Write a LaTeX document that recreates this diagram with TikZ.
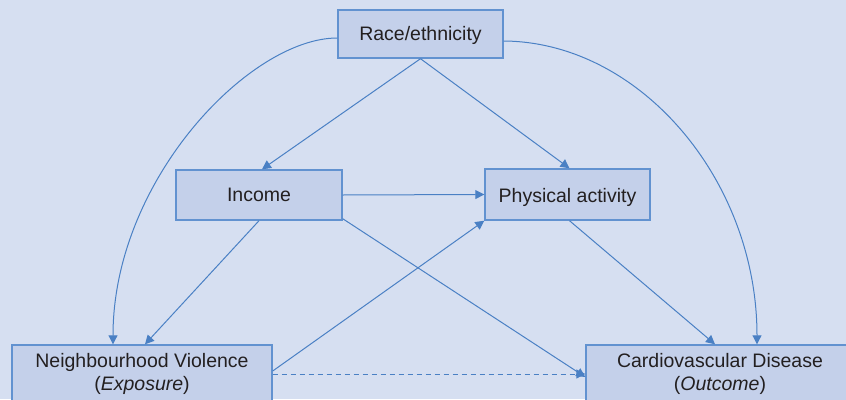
\documentclass[tikz,border=0pt]{standalone}
\usepackage{fontspec}
\setmainfont{Liberation Sans}
\usetikzlibrary{arrows.meta}

\definecolor{bgblue}{RGB}{214,223,241}
\definecolor{boxblue}{RGB}{196,208,234}
\definecolor{edgeblue}{RGB}{98,146,208}
\definecolor{arrowblue}{RGB}{74,128,196}
\definecolor{inkgray}{RGB}{35,31,32}

\begin{document}
\begin{tikzpicture}[
    x=1pt, y=-1pt,
    >={Triangle[length=9pt,width=9pt]},
    every node/.style={font=\fontsize{19.5}{23}\selectfont, text=inkgray},
    var/.style={
        draw=edgeblue,
        fill=boxblue,
        line width=1.4pt,
        align=center,
        inner sep=0pt
    },
    link/.style={
        ->,
        draw=arrowblue,
        line width=1pt
    }
]

    % Background
    \fill[bgblue] (0,0) rectangle (846,399);
    \useasboundingbox (0,0) rectangle (846,399);

    % Variables
    \node[var, minimum width=165pt, minimum height=48pt, text height=16pt, text depth=4pt] (race) at (420.5,34) {Race/ethnicity};
    \node[var, minimum width=166pt, minimum height=50pt] (income) at (259,195) {Income};
    \node[var, minimum width=165pt, minimum height=51pt, text height=19pt, text depth=4pt] (activity) at (567.5,194.5) {Physical activity};
    \node[var, minimum width=260pt, minimum height=58pt] (violence) at (142,374)
        {Neighbourhood Violence\\(\textit{Exposure})};
    \node[var, minimum width=268pt, minimum height=58pt] (cvd) at (720,374)
        {Cardiovascular Disease\\(\textit{Outcome})};

    % Paths from race/ethnicity
    \draw[link] (race.south) -- ([xshift=3pt]income.north);
    \draw[link] (race.south) -- ([xshift=2pt]activity.north);
    \draw[link] ([yshift=-4pt]race.west) .. controls (250,38) and (113,180) .. ([xshift=-29pt]violence.north);
    \draw[link] ([yshift=-7pt]race.east) .. controls (640,42) and (757,180) .. ([xshift=37pt]cvd.north);

    % Paths from income
    \draw[link] (income.east) -- (activity.west);
    \draw[link] (income.south) -- ([xshift=3pt]violence.north);
    \draw[link] ([yshift=2pt]income.south east) -- ([yshift=-3pt]cvd.west);

    % Exposure and mediator
    \draw[link] ([yshift=3pt]violence.east) -- (activity.south west);
    \draw[link] ([xshift=2pt]activity.south) -- ([xshift=-5pt]cvd.north);
    \draw[link, dash pattern=on 5pt off 4pt] (violence.east) -- (cvd.west);

\end{tikzpicture}
\end{document}
